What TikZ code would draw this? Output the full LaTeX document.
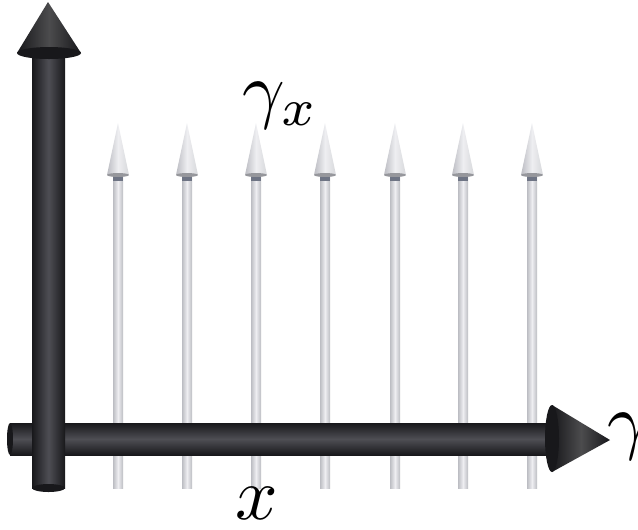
\documentclass[tikz,border=0pt]{standalone}
\usepackage{tikz}
\usetikzlibrary{calc}
\definecolor{rod}{HTML}{18181B}
\definecolor{rodhi}{HTML}{4E4E54}
\definecolor{cone}{HTML}{2C2C2E}
\definecolor{pin}{HTML}{BCBDC3}
\definecolor{pinhi}{HTML}{EEEEF1}
\definecolor{pinring}{HTML}{6E7484}

\begin{document}
\begin{tikzpicture}[x=0.025cm,y=-0.025cm,
  blackrod/.style={top color=rod,bottom color=rod,middle color=rodhi},
  blackcone/.style={left color=rod,right color=rod,middle color=cone!85!white},
  pinrod/.style={top color=pin,bottom color=pin,middle color=pinhi,shading angle=90},
  pincone/.style={left color=pin,right color=pin!60!white,middle color=pinhi},
  lbl/.style={inner sep=0pt}
]
\clip (0,0) rectangle (638,529);
% pins gamma_x
\foreach \px in {118,187,256,325,395,463,532}{
  \shade[pinrod] (\px-5,175) rectangle (\px+5,488);
  \fill[pinring] (\px-5,175) rectangle (\px+5,181);
  \shade[pincone] (\px-11,175) -- (\px,123) -- (\px+11,175) -- cycle;
  \fill[pin!80!black] (\px,175) ellipse (11 and 2);
}
% horizontal axis
\shade[blackrod] (10,423) rectangle (556,455);
\fill[rod] (10,439) ellipse (3 and 16);
\shade[blackcone] (552,405) -- (610,440) -- (552,472) -- cycle;
\fill[rod] (552,438.5) ellipse (7 and 33.5);
% vertical axis
\shade[blackrod,shading angle=90] (32,50) rectangle (65,488);
\fill[rod] (48.5,488) ellipse (16.5 and 4);
\shade[blackcone] (17,53) -- (48,2) -- (81,53) -- cycle;
\fill[rod] (49,53) ellipse (32 and 6);
% labels
\node[lbl] (gx) at (281,106) {\scalebox{5.3}{$\gamma_x$}};
\node[lbl] (xl) at (257,503) {\scalebox{5.3}{$x$}};
\node[lbl,anchor=west] (gl) at (607,437) {\scalebox{5.3}{$\gamma$}};
\end{tikzpicture}
\end{document}
